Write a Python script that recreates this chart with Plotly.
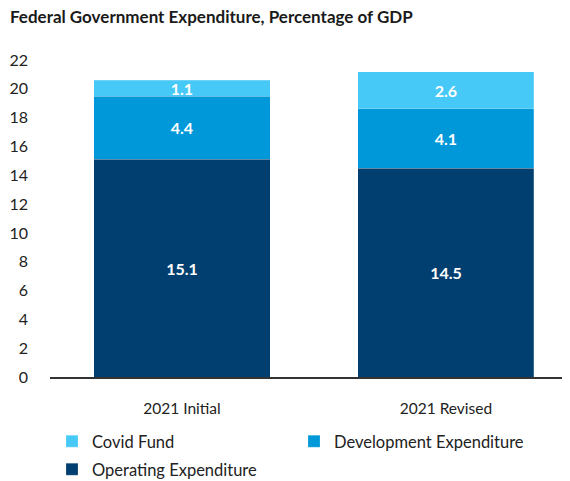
import plotly.graph_objects as go

categories = ["2021 Initial", "2021 Revised"]
operating = [15.1, 14.5]
development = [4.4, 4.1]
covid = [1.1, 2.6]
y_ticks = [0, 2, 4, 6, 8, 10, 12, 14, 16, 18, 20, 22]

series = [
    ("Operating Expenditure", operating, "#003F6F", "legend2"),
    ("Development Expenditure", development, "#0098D9", "legend"),
    ("Covid Fund", covid, "#46C9F6", "legend"),
]

W, H = 562, 473  # page body adds an 8px offset

fig = go.Figure()
for name, vals, color, lg in series:
    fig.add_trace(go.Bar(
        name=name, x=categories, y=vals, legend=lg,
        marker=dict(color=color, line=dict(color="rgba(255,255,255,0.35)", width=0.6)),
        width=0.667,
        text=[f"{v:.1f}" for v in vals], textposition="inside",
        insidetextanchor="middle",
        textfont=dict(color="white", size=16, family="Lato", weight="bold"),
        hoverinfo="skip",
    ))

legend_common = dict(orientation="h", traceorder="reversed",
                     xref="container", yref="container",
                     x=44 / W, xanchor="left", yanchor="top",
                     entrywidth=197, entrywidthmode="pixels",
                     font=dict(size=16.5, color="#222222"),
                     tracegroupgap=0, itemclick=False)

fig.update_layout(
    barmode="stack",
    width=W, height=H,
    margin=dict(l=42, r=0, t=52, b=104, autoexpand=False),
    paper_bgcolor="white", plot_bgcolor="white",
    font=dict(family="Lato", color="#222222"),
    title=dict(text="Federal Government Expenditure, Percentage of GDP",
               xref="container", yref="container",
               x=2 / W, xanchor="left", y=1 - 9.5 / H, yanchor="middle",
               pad=dict(l=0, t=0, b=0, r=0),
               font=dict(size=17, family="Lato", weight="bold", color="#1a1a1a")),
    showlegend=True,
    legend=dict(**legend_common, y=1 - 416 / H),
    legend2=dict(**legend_common, y=1 - 444 / H),
    uniformtext=dict(minsize=10, mode="show"),
)
fig.update_xaxes(type="category", range=[-0.5, 1.47],
                 showline=True, linecolor="#333333", linewidth=1.5,
                 showgrid=False, ticks="", tickfont=dict(size=15.5, color="#222222"),
                 ticklabelstandoff=17)
fig.update_yaxes(range=[0, 22], tickvals=y_ticks, showgrid=False, zeroline=False,
                 showline=False, ticks="", tickfont=dict(size=16, color="#222222"),
                 ticklabelstandoff=21)

fig.write_html("out.html")
